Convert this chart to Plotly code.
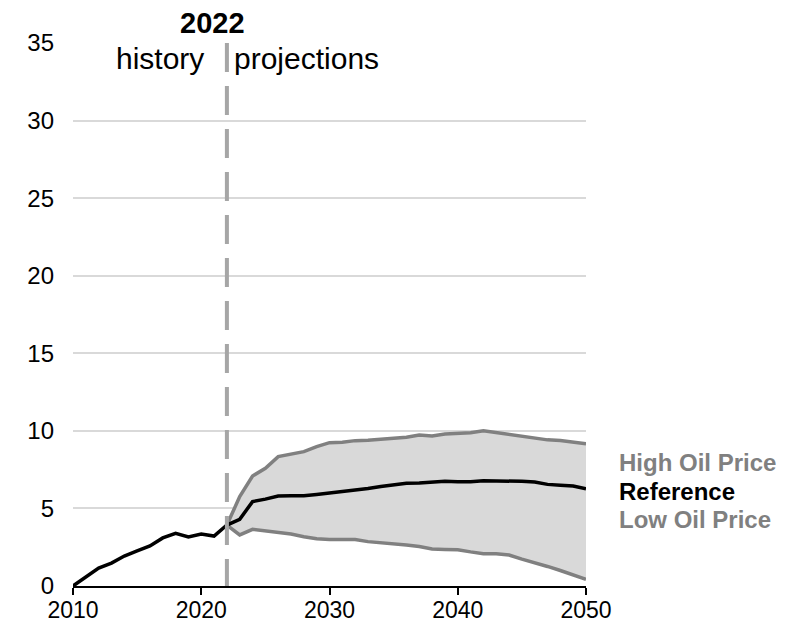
import plotly.graph_objects as go

hist_years = list(range(2010, 2023))
hist_ref = [0.0, 0.6, 1.16, 1.48, 1.93, 2.26, 2.58, 3.1, 3.4, 3.16, 3.35, 3.22, 3.93]

proj_years = list(range(2022, 2051))
ref_proj = [3.93, 4.3, 5.44, 5.6, 5.8, 5.82, 5.82, 5.9, 6.0, 6.05, 6.18, 6.28, 6.42, 6.52, 6.62,
            6.64, 6.68, 6.75, 6.72, 6.72, 6.78, 6.78, 6.8, 6.75, 6.7, 6.55, 6.5, 6.45, 6.27]
high = [3.93, 5.76, 7.09, 7.59, 8.34, 8.49, 8.66, 8.98, 9.24, 9.27, 9.37, 9.4, 9.46, 9.52, 9.59,
        9.73, 9.67, 9.8, 9.84, 9.88, 10.01, 9.9, 9.78, 9.67, 9.52, 9.42, 9.38, 9.27, 9.16]
low = [3.93, 3.29, 3.65, 3.55, 3.5, 3.35, 3.18, 3.05, 2.99, 2.99, 3.0, 2.86, 2.8, 2.72, 2.64,
       2.54, 2.38, 2.36, 2.34, 2.2, 2.08, 2.08, 2.0, 1.73, 1.52, 1.26, 1.0, 0.72, 0.43]

x_ticks = [2010, 2020, 2030, 2040, 2050]
y_ticks = [0, 5, 10, 15, 20, 25, 30, 35]

ref_years = hist_years + proj_years[1:]
ref_vals = hist_ref + ref_proj[1:]

band_color = "#d9d9d9"
side_color = "#808080"

fig = go.Figure()
fig.add_trace(go.Scatter(x=proj_years, y=low, mode="lines", line=dict(width=0, color=band_color),
                         hoverinfo="skip", showlegend=False))
fig.add_trace(go.Scatter(x=proj_years, y=high, mode="lines", line=dict(width=0, color=band_color),
                         fill="tonexty", fillcolor=band_color, hoverinfo="skip", showlegend=False))
fig.add_trace(go.Scatter(x=proj_years, y=high, mode="lines", line=dict(width=3.5, color=side_color),
                         name="High Oil Price", showlegend=False))
fig.add_trace(go.Scatter(x=proj_years, y=low, mode="lines", line=dict(width=3.5, color=side_color),
                         name="Low Oil Price", showlegend=False))
fig.add_trace(go.Scatter(x=ref_years, y=ref_vals, mode="lines", line=dict(width=3.5, color="black"),
                         name="Reference", showlegend=False))

fig.add_shape(type="line", x0=2022, x1=2022, y0=35, y1=0, xref="x", yref="y",
              line=dict(color="#a6a6a6", width=4, dash="29px,14px"), layer="above")

font = "Liberation Sans, Arial, sans-serif"
fig.add_annotation(x=2022, y=1, xref="x", yref="paper", yanchor="middle", yshift=20, xshift=-14,
                   text="<b>2022</b>", showarrow=False, font=dict(size=29, color="black", family=font))
fig.add_annotation(x=2022, y=35, xref="x", yref="y", xanchor="right", yanchor="middle", xshift=-21, yshift=-15,
                   text="history", showarrow=False, font=dict(size=30, color="black", family=font))
fig.add_annotation(x=2022, y=35, xref="x", yref="y", xanchor="left", yanchor="middle", xshift=5, yshift=-15,
                   text="projections", showarrow=False, font=dict(size=30, color="black", family=font))

for txt, yv, col in [("High Oil Price", 7.95, side_color), ("Reference", 6.12, "black"), ("Low Oil Price", 4.26, side_color)]:
    fig.add_annotation(x=1.0, y=yv, xref="paper", yref="y", xanchor="left", xshift=31,
                       text=f"<b>{txt}</b>", showarrow=False, font=dict(size=24, color=col, family=font))

fig.update_layout(
    width=805, height=625,
    margin=dict(l=65, r=227, t=35, b=47),
    plot_bgcolor="white", paper_bgcolor="white",
    font=dict(family=font, size=24, color="black"),
    showlegend=False,
)
fig.update_xaxes(range=[2010, 2050], tickvals=x_ticks, ticks="outside", ticklen=7, tickcolor="black",
                 tickwidth=1.5, showline=True, linecolor="black", linewidth=1.5, showgrid=False,
                 zeroline=False, tickfont=dict(size=23), automargin=False, ticklabelstandoff=-4)
fig.update_yaxes(range=[0, 35], tickvals=y_ticks, showgrid=True, gridcolor="#d9d9d9", gridwidth=2,
                 zeroline=False, showline=False, ticks="", tickfont=dict(size=24), ticklabelstandoff=18,
                 automargin=False)

fig.write_html("out.html")
